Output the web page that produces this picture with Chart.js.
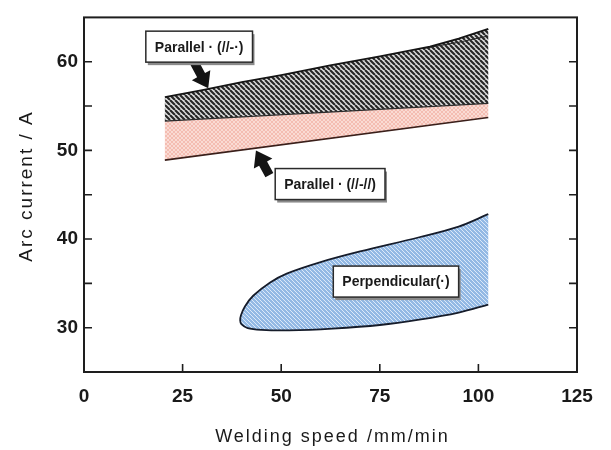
<!DOCTYPE html>
<html><head><meta charset="utf-8">
<script src="https://cdn.jsdelivr.net/npm/chart.js@4/dist/chart.umd.min.js"></script>
<style>html,body{margin:0;padding:0;background:#fff}#wrap{width:611px;height:450px}</style>
</head><body><div id="wrap"><canvas id="c" width="611" height="450"></canvas></div>
<script>
// ---- data ----
const xTicks = [0, 25, 50, 75, 100, 125];
const yTicks = [30, 40, 50, 60];
const xTickMarks = [25, 50, 75, 100];
const yTickMarks = [30, 35, 40, 45, 50, 55, 60];

const grayUpper = [[20.5,56.0],[30,56.8],[40,57.7],[50,58.5],[62.4,59.6],[75,60.6],[87.7,61.7],[95,62.6],[102.5,63.7]];
const grayUpperInner = [[86,61.5],[95,62.2],[102.5,62.9]];
const grayLower = [[20.5,53.3],[102.5,55.3]];
const pinkLower = [[20.5,48.9],[102.5,53.7]];

const blueLower = [[102.5,32.6],[95,31.7],[85,30.9],[75,30.3],[63,29.9],[52,29.7],[45,29.75],[41.5,29.95],[39.9,30.4]];
const blueTip = [[39.6,30.8]];
const blueUpper = [[39.8,31.4],[40.8,32.4],[42.9,33.6],[47.2,35.1],[51.4,36.1],[60,37.4],[70,38.6],[85,40.2],[95,41.4],[102.5,42.8]];

const noteTexts = ['Parallel \u00b7 (//-\u00b7)', 'Parallel \u00b7 (//-//)', 'Perpendicular(\u00b7)'];
const noteAt = [[29.2,61.7],[62.4,46.2],[79.1,35.2]];
const arrows = [[[27.6,60.2],[31.5,57.0]], [[47.0,47.2],[43.6,50.0]]];

// ---- helpers ----
const P = a => a.map(([x,y]) => ({x, y}));
function hatch(bg, fg, size, lw, both) {
  const c = document.createElement('canvas');
  c.width = c.height = size;
  const g = c.getContext('2d');
  g.fillStyle = bg; g.fillRect(0,0,size,size);
  g.strokeStyle = fg; g.lineWidth = lw;
  g.beginPath();
  for (let k = -1; k <= 1; k++) { g.moveTo(k*size, 0); g.lineTo(k*size+size, size); }
  if (both) for (let k = -1; k <= 1; k++) { g.moveTo(k*size, size); g.lineTo(k*size+size, 0); }
  g.stroke();
  return g.createPattern(c, 'repeat');
}
const grayPat = hatch('#dcdcdc', '#262626', 5, 2.1, false);
const pinkPat = hatch('#f4bdb2', 'rgba(255,242,238,0.7)', 4, 0.8, true);
const bluePat = hatch('#93b9e4', '#e4eefa', 4, 0.9, false);

const grayPoly = grayUpper.concat(grayLower.slice().reverse());
const pinkPoly = grayLower.concat(pinkLower.slice().reverse());
const bluePoly = blueLower.concat(blueTip, blueUpper);

const ln = (data, color, w, order, extra) => Object.assign({
  data: P(data), showLine: true, borderColor: color, borderWidth: w,
  pointRadius: 0, fill: false, order, tension: 0
}, extra || {});

const decor = {
  id: 'decor',
  afterDatasetsDraw(chart) {
    const {ctx, chartArea: a, scales: {x, y}} = chart;
    ctx.save();
    // frame
    ctx.strokeStyle = '#1e1e1e'; ctx.lineWidth = 2;
    ctx.strokeRect(a.left, a.top, a.right - a.left, a.bottom - a.top);
    // inward ticks
    ctx.lineWidth = 1.6; ctx.beginPath();
    xTickMarks.forEach(v => { const px = x.getPixelForValue(v); ctx.moveTo(px, a.bottom); ctx.lineTo(px, a.bottom - 8); });
    yTickMarks.forEach(v => { const py = y.getPixelForValue(v);
      ctx.moveTo(a.left, py); ctx.lineTo(a.left + 8, py);
      ctx.moveTo(a.right, py); ctx.lineTo(a.right - 8, py); });
    ctx.stroke();
    // arrows
    ctx.fillStyle = '#141414';
    arrows.forEach(([t, h]) => {
      const x0 = x.getPixelForValue(t[0]), y0 = y.getPixelForValue(t[1]);
      const x1 = x.getPixelForValue(h[0]), y1 = y.getPixelForValue(h[1]);
      const dx = x1 - x0, dy = y1 - y0, L = Math.hypot(dx, dy);
      const ux = dx / L, uy = dy / L, nx = -uy, ny = ux;
      const sw = 4.5, hw = 10.5, hl = 15;
      const bx = x1 - ux * hl, by = y1 - uy * hl;
      ctx.beginPath();
      ctx.moveTo(x0 + nx*sw, y0 + ny*sw);
      ctx.lineTo(bx + nx*sw, by + ny*sw);
      ctx.lineTo(bx + nx*hw, by + ny*hw);
      ctx.lineTo(x1, y1);
      ctx.lineTo(bx - nx*hw, by - ny*hw);
      ctx.lineTo(bx - nx*sw, by - ny*sw);
      ctx.lineTo(x0 - nx*sw, y0 - ny*sw);
      ctx.closePath(); ctx.fill();
    });
    // label boxes
    ctx.font = 'bold 14px "Liberation Sans", Arial, sans-serif';
    ctx.textAlign = 'center'; ctx.textBaseline = 'middle';
    noteTexts.forEach((t, i) => {
      const cx = x.getPixelForValue(noteAt[i][0]), cy = y.getPixelForValue(noteAt[i][1]);
      const w = ctx.measureText(t).width + 18, h = 31;
      ctx.fillStyle = '#8a8a8a';
      ctx.fillRect(cx - w/2 + 2, cy - h/2 + 3, w, h);
      ctx.fillStyle = '#ffffff';
      ctx.fillRect(cx - w/2, cy - h/2, w, h);
      ctx.strokeStyle = '#2a2a2a'; ctx.lineWidth = 1.5;
      ctx.strokeRect(cx - w/2, cy - h/2, w, h);
      ctx.fillStyle = '#1a1a1a';
      ctx.fillText(t, cx, cy + 1);
    });
    ctx.restore();
  },
  afterDraw(chart) {
    const {ctx, chartArea: a} = chart;
    ctx.save();
    ctx.fillStyle = '#1a1a1a';
    ctx.font = '18px "Liberation Sans", Arial, sans-serif';
    ctx.letterSpacing = '2px';
    ctx.textAlign = 'center'; ctx.textBaseline = 'middle';
    ctx.fillText('Welding speed /mm/min', (a.left + a.right) / 2 + 2, 437);
    ctx.translate(27, 186);
    ctx.rotate(-Math.PI / 2);
    ctx.font = '19px "Liberation Sans", Arial, sans-serif';
    ctx.letterSpacing = '2px';
    ctx.fillText('Arc current / A', 0, 0);
    ctx.restore();
  }
};

new Chart(document.getElementById('c'), {
  type: 'scatter',
  data: { datasets: [
    ln(grayUpper, '#151515', 1.8, 0),
    ln(grayUpperInner, '#2a2a2a', 1.2, 0),
    ln(grayLower, '#2c2c2c', 1.4, 0),
    ln(pinkLower, '#3a1f1a', 1.6, 0),
    ln(bluePoly, '#161c2a', 1.8, 1, {fill: 'shape', backgroundColor: bluePat, tension: 0.35}),
    ln(grayPoly, 'rgba(0,0,0,0)', 0, 2, {fill: 'shape', backgroundColor: grayPat}),
    ln(pinkPoly, 'rgba(0,0,0,0)', 0, 3, {fill: 'shape', backgroundColor: pinkPat})
  ]},
  options: {
    responsive: false, animation: false, devicePixelRatio: 1,
    layout: { padding: { top: 9, right: 34, left: 0, bottom: 0 } },
    plugins: { legend: { display: false }, tooltip: { enabled: false } },
    scales: {
      x: {
        type: 'linear', min: 0, max: 125,
        afterBuildTicks: s => { s.ticks = xTicks.map(v => ({value: v})); },
        afterFit: s => { s.height = 78; },
        grid: { display: false, drawTicks: false }, border: { display: false },
        ticks: { color: '#1a1a1a', font: { family: '"Liberation Sans", Arial, sans-serif', size: 19, weight: 'bold' }, padding: 13, maxRotation: 0, autoSkip: false }
      },
      y: {
        type: 'linear', min: 25, max: 65,
        afterBuildTicks: s => { s.ticks = yTicks.map(v => ({value: v})); },
        afterFit: s => { s.width = 84; },
        grid: { display: false, drawTicks: false }, border: { display: false },
        ticks: { color: '#1a1a1a', font: { family: '"Liberation Sans", Arial, sans-serif', size: 19, weight: 'bold' }, padding: 6, autoSkip: false }
      }
    }
  },
  plugins: [decor]
});
</script></body></html>
